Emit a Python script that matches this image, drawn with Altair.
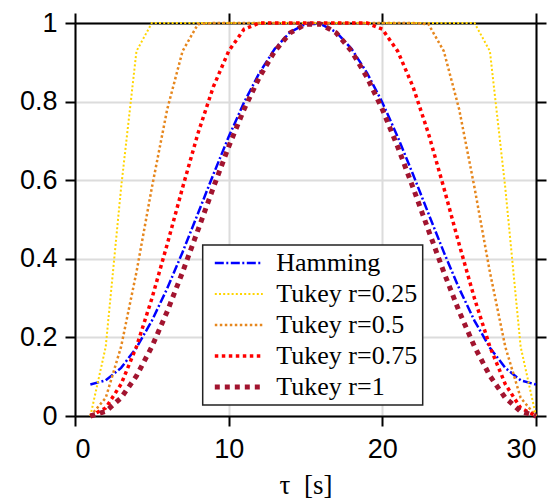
import altair as alt
import pandas as pd

tau = [1, 2, 3, 4, 5, 6, 7, 8, 9, 10, 11, 12, 13, 14, 15,
       16, 17, 18, 19, 20, 21, 22, 23, 24, 25, 26, 27, 28, 29, 30]

hamming = [0.08, 0.0908, 0.1225, 0.1738, 0.2422, 0.3245, 0.4169, 0.5151, 0.6144, 0.7103,
           0.7979, 0.8732, 0.9342, 0.9768, 0.9973, 0.9973, 0.9768, 0.9342, 0.8732, 0.7979,
           0.7103, 0.6144, 0.5151, 0.4169, 0.3245, 0.2422, 0.1738, 0.1225, 0.0908, 0.08]

tukey_025 = [0, 0.1763, 0.5809, 0.9284, 1, 1, 1, 1, 1, 1,
             1, 1, 1, 1, 1, 1, 1, 1, 1, 1,
             1, 1, 1, 1, 1, 1, 0.9284, 0.5809, 0.1763, 0]

tukey_05 = [0, 0.0462, 0.1763, 0.3662, 0.5809, 0.7804, 0.9284, 0.9971, 1, 1,
            1, 1, 1, 1, 1, 1, 1, 1, 1, 1,
            1, 1, 0.9971, 0.9284, 0.7804, 0.5809, 0.3662, 0.1763, 0.0462, 0]

tukey_075 = [0, 0.0205, 0.0811, 0.1763, 0.2986, 0.4369, 0.5809, 0.7189, 0.8374, 0.9284,
             0.9841, 1, 1, 1, 1, 1, 1, 1, 1, 0.9841,
             0.9284, 0.8374, 0.7189, 0.5809, 0.4369, 0.2986, 0.1763, 0.0811, 0.0205, 0]

tukey_1 = [0, 0.0117, 0.0462, 0.1020, 0.1763, 0.2658, 0.3662, 0.4729, 0.5809, 0.6851,
           0.7804, 0.8621, 0.9284, 0.9748, 0.9971, 0.9971, 0.9748, 0.9284, 0.8621, 0.7804,
           0.6851, 0.5809, 0.4729, 0.3662, 0.2658, 0.1763, 0.1020, 0.0462, 0.0117, 0]

series_names = ["Hamming", "Tukey r=0.25", "Tukey r=0.5", "Tukey r=0.75", "Tukey r=1"]
series_values = [hamming, tukey_025, tukey_05, tukey_075, tukey_1]

colors = ["#0000FF", "#FFD500", "#E6871E", "#FF0000", "#A2142F"]
dashes = [[9, 2.5, 2, 2.5], [2, 2.2], [2.5, 2.5], [3.5, 3.5], [5, 5]]
widths = [2.5, 2, 2.5, 3.5, 5]

x_ticks = [0, 10, 20, 30]
y_ticks = [0, 0.2, 0.4, 0.6, 0.8, 1]

rows = []
for k, (name, vals) in enumerate(zip(series_names, series_values)):
    for t, v in zip(tau, vals):
        rows.append({"tau": t, "w": v, "series": name, "k": k})
df = pd.DataFrame(rows)

legend = alt.Legend(
    title=None,
    orient="none",
    legendX=127.7,
    legendY=222,
    symbolType="stroke",
    symbolSize=2304,
    clipHeight=26,
    rowPadding=5,
    padding=5,
    symbolOffset=4.6,
    labelOffset=11,
    labelFont="Liberation Serif",
    labelFontSize=26,
    labelColor="black",
    labelLimit=400,
    fillColor="white",
    strokeColor="#222222",
)

xscale = alt.Scale(domain=[0, 30], nice=False, zero=False)
yscale = alt.Scale(domain=[0, 1], nice=False, zero=False)

lines = alt.Chart(df).mark_line(clip=False).encode(
    x=alt.X("tau:Q", scale=xscale,
            axis=alt.Axis(orient="bottom", values=x_ticks, title="τ\u2002[s]",
                          grid=True, labelPadding=10, titlePadding=10)),
    y=alt.Y("w:Q", scale=yscale,
            axis=alt.Axis(orient="left", values=y_ticks, format="~g", title=None,
                          grid=True, labelPadding=8)),
    color=alt.Color("series:N", scale=alt.Scale(domain=series_names, range=colors), legend=legend),
    strokeDash=alt.StrokeDash("series:N", scale=alt.Scale(domain=series_names, range=dashes), legend=legend),
    strokeWidth=alt.StrokeWidth("series:N", scale=alt.Scale(type="ordinal", domain=series_names, range=widths), legend=legend),
    order=alt.Order("tau:Q"),
)

frame = alt.Chart(df).mark_point(opacity=0).encode(
    x=alt.X("tau:Q", scale=xscale,
            axis=alt.Axis(orient="top", values=x_ticks, labels=False, title=None, grid=False)),
    y=alt.Y("w:Q", scale=yscale,
            axis=alt.Axis(orient="right", values=y_ticks, labels=False, title=None, grid=False)),
)

chart = alt.layer(lines, frame).properties(
    width=461,
    height=393,
    autosize=alt.AutoSizeParams(type="none"),
    padding={"left": 67, "top": 15, "right": 15, "bottom": 86},
).configure_view(stroke=None).configure_axis(
    labelFont="Liberation Sans",
    labelFontSize=27,
    labelColor="black",
    titleFont="Liberation Serif",
    titleFontSize=27,
    titleFontWeight="normal",
    titleColor="black",
    domainColor="black",
    domainWidth=2,
    tickColor="black",
    tickWidth=2,
    tickSize=10,
    gridColor="#DCDCDC",
    gridWidth=2,
).configure_legend(
    strokeWidth=1.5,
)

chart.save("out.html", embed_options={"renderer": "svg", "actions": False})
